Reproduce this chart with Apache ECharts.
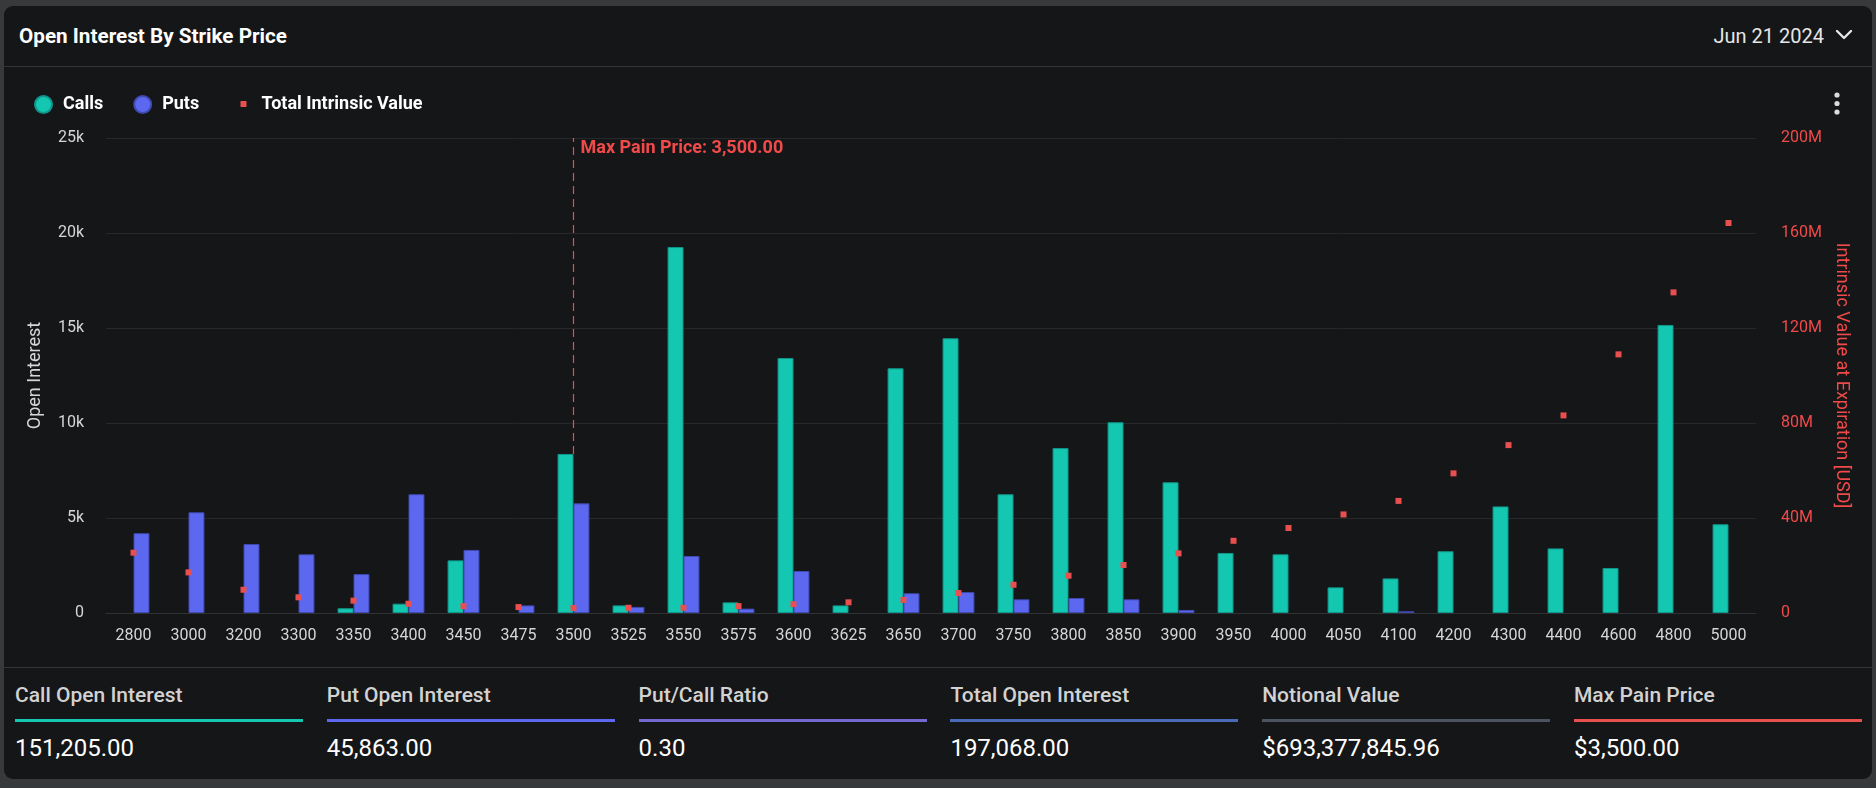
<!DOCTYPE html>
<html>
<head>
<meta charset="utf-8">
<script src="https://cdn.jsdelivr.net/npm/echarts@6/dist/echarts.min.js"></script>
<style>
  html, body { margin: 0; padding: 0; background: #38393b; width: 1876px; height: 788px; overflow: hidden; font-family: Roboto, "Noto Sans", sans-serif; }
  #card { position: absolute; left: 4px; top: 6px; width: 1868px; height: 773px; background: #151618; border-radius: 9px; overflow: hidden; }
  #title { position: absolute; left: 15px; top: 17px; font-size: 20.7px; font-weight: bold; color: #ffffff; line-height: 26px; }
  #date { position: absolute; right: 48px; top: 17px; font-size: 20px; color: #e6e6e6; line-height: 26px; }
  #chev { position: absolute; left: 1831px; top: 23px; }
  #dots { position: absolute; left: 1829px; top: 86px; }
  .sep { position: absolute; left: 0; width: 1868px; height: 1px; background: #323437; }
  #chart { position: absolute; left: 1px; top: 61px; width: 1867px; height: 600px; }
  .stat { position: absolute; top: 676px; width: 288px; }
  .stat .lbl { font-size: 21px; font-weight: 500; color: #d2d2d2; line-height: 26px; height: 26px; }
  .stat .bar { height: 3px; margin-top: 11px; }
  .stat .val { font-size: 24px; color: #ffffff; line-height: 28px; margin-top: 12px; }
</style>
</head>
<body>
<div id="card">
  <div id="title">Open Interest By Strike Price</div>
  <div id="date">Jun 21 2024</div>
  <svg id="chev" width="18" height="12" viewBox="0 0 18 12"><polyline points="2,2 9,9 16,2" fill="none" stroke="#e6e6e6" stroke-width="2.4" stroke-linecap="round" stroke-linejoin="round"/></svg>
  <div class="sep" style="top:60px"></div>
  <div id="chart"></div>
  <svg id="dots" width="8" height="24" viewBox="0 0 8 24"><circle cx="4" cy="3" r="2.6" fill="#dcdcdc"/><circle cx="4" cy="11.5" r="2.6" fill="#dcdcdc"/><circle cx="4" cy="20" r="2.6" fill="#dcdcdc"/></svg>
  <div class="sep" style="top:661px"></div>
  <div id="stats"></div>
</div>
<script>
const strikes = ['2800','3000','3200','3300','3350','3400','3450','3475','3500','3525','3550','3575','3600','3625','3650','3700','3750','3800','3850','3900','3950','4000','4050','4100','4200','4300','4400','4600','4800','5000'];
const callsOI = [null,null,null,null,250,490,2770,null,8370,400,19260,560,13420,400,12880,14460,6250,8680,10040,6880,3160,3090,1350,1820,3250,5610,3400,2370,15160,4670];
const putsOI = [4200,5300,3630,3090,2050,6250,3320,400,5770,320,3000,230,2210,null,1040,1100,720,790,720,160,null,null,null,90,null,null,null,null,null,null];
const intrinsicValue = [25.4e6,17.1e6,9.8e6,6.6e6,5.2e6,3.9e6,2.9e6,2.5e6,2.1e6,2.2e6,2.2e6,2.9e6,3.7e6,4.5e6,5.5e6,8.4e6,11.9e6,15.7e6,20.2e6,25.1e6,30.4e6,35.8e6,41.5e6,47.2e6,58.8e6,70.7e6,83.2e6,108.9e6,135.0e6,164.2e6];
const maxPainStrike = '3500';
const maxPainLabel = 'Max Pain Price: 3,500.00';
const oiMax = 25000;
const statLabels = ['Call Open Interest','Put Open Interest','Put/Call Ratio','Total Open Interest','Notional Value','Max Pain Price'];
const statValues = ['151,205.00','45,863.00','0.30','197,068.00','$693,377,845.96','$3,500.00'];
const statColors = ['#14c7b1','#5b68ef','#7367d2','#4a6ab8','#4b5363','#e8504f'];

const statsEl = document.getElementById('stats');
statLabels.forEach((l, i) => {
  const d = document.createElement('div');
  d.className = 'stat';
  d.style.left = (11 + i * 311.8) + 'px';
  d.innerHTML = '<div class="lbl">' + l + '</div><div class="bar" style="background:' + statColors[i] + '"></div><div class="val">' + statValues[i] + '</div>';
  statsEl.appendChild(d);
});

const CALL = '#14c7b1', PUT = '#5b68ef', RED = '#ea4f4f', RED_TXT = '#f04a4a';
const maxPainCallOI = callsOI[strikes.indexOf(maxPainStrike)];
const chart = echarts.init(document.getElementById('chart'), null, { renderer: 'canvas' });
const font = 'Roboto';
chart.setOption({
  animation: false,
  backgroundColor: 'transparent',
  textStyle: { fontFamily: font },
  legend: [
    {
      left: 24, top: 23, itemWidth: 17, itemHeight: 17, itemGap: 30,
      icon: 'circle',
      textStyle: { color: '#ffffff', fontSize: 18, fontWeight: 'bold', fontFamily: font, padding: [0,0,0,6] },
      data: ['Calls', 'Puts'],
      selectedMode: false
    },
    {
      left: 230.5, top: 23, itemWidth: 6, itemHeight: 6,
      icon: 'rect',
      textStyle: { color: '#ffffff', fontSize: 18, fontWeight: 'bold', fontFamily: font, padding: [0,0,0,10] },
      data: ['Total Intrinsic Value'],
      selectedMode: false
    }
  ],
  grid: { left: 101, right: 116, top: 71, bottom: 54, containLabel: false },
  xAxis: {
    type: 'category',
    data: strikes,
    axisTick: { show: false },
    axisLine: { lineStyle: { color: '#303236' } },
    axisLabel: { color: '#d6d6d6', fontSize: 16, margin: 15, interval: 0, fontFamily: font }
  },
  yAxis: [
    {
      type: 'value', min: 0, max: oiMax, interval: 5000,
      name: 'Open Interest', nameLocation: 'middle', nameGap: 62, nameRotate: 90,
      nameTextStyle: { color: '#d6d6d6', fontSize: 18, fontFamily: font },
      axisLabel: { color: '#d6d6d6', fontSize: 16, margin: 22, fontFamily: font, formatter: v => v === 0 ? '0' : (v / 1000) + 'k' },
      splitLine: { lineStyle: { color: '#26282b' } },
      axisLine: { show: false }, axisTick: { show: false }
    },
    {
      type: 'value', min: 0, max: 200e6, interval: 40e6, position: 'right',
      name: 'Intrinsic Value at Expiration [USD]', nameLocation: 'middle', nameGap: 73, nameRotate: -90,
      nameTextStyle: { color: RED_TXT, fontSize: 18, fontFamily: font },
      axisLabel: { color: RED_TXT, fontSize: 16, margin: 25, fontFamily: font, formatter: v => v === 0 ? '0' : (v / 1e6) + 'M' },
      splitLine: { show: false },
      axisLine: { show: false }, axisTick: { show: false }
    }
  ],
  series: [
    {
      name: 'Max Pain', type: 'line', data: [], yAxisIndex: 0, z: 1,
      markLine: {
        z: 1,
        silent: true,
        symbol: ['none', 'none'],
        lineStyle: { color: RED_TXT, type: [8, 5], width: 1.2 },
        label: {
          show: true, position: 'end', formatter: maxPainLabel,
          color: RED_TXT, fontSize: 18, fontWeight: 'bold', fontFamily: font,
          align: 'left', verticalAlign: 'top', distance: [0, -1], padding: [0, 0, 0, 7]
        },
        data: [[ { coord: [maxPainStrike, maxPainCallOI] }, { coord: [maxPainStrike, oiMax] } ]]
      }
    },
    {
      name: 'Calls', type: 'bar', data: callsOI, yAxisIndex: 0,
      barGap: '0%', barCategoryGap: '42%',
      itemStyle: { color: CALL, borderColor: '#10968a', borderWidth: 1 },
      z: 2
    },
    {
      name: 'Puts', type: 'bar', data: putsOI, yAxisIndex: 0,
      barGap: '0%', barCategoryGap: '42%',
      itemStyle: { color: PUT, borderColor: '#414ab0', borderWidth: 1 },
      z: 2
    },
    {
      name: 'Total Intrinsic Value', type: 'scatter', data: intrinsicValue, yAxisIndex: 1,
      symbol: 'rect', symbolSize: 6,
      itemStyle: { color: RED, opacity: 1 },
      z: 4
    }
  ]
});
</script>
</body>
</html>
